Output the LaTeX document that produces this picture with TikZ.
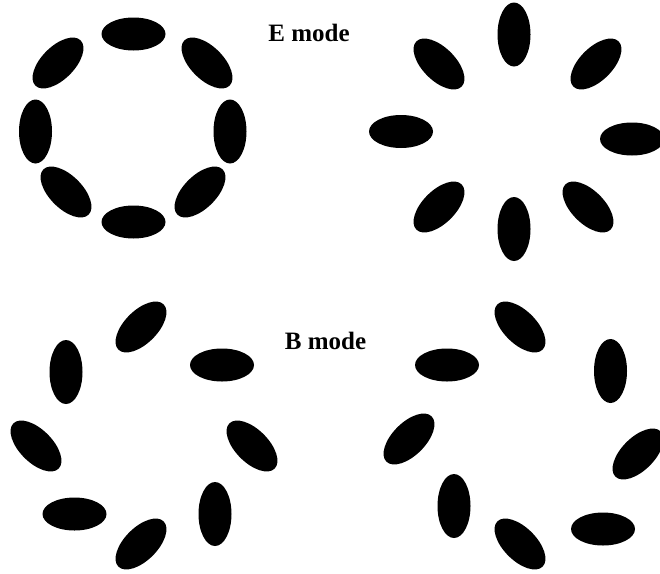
\documentclass[tikz,border=0pt]{standalone}
\usepackage{fontspec}
\setmainfont{Liberation Serif}
\usepackage{tikz}
\usetikzlibrary{shapes.geometric}

\tikzset{
  grain/.style={ellipse,fill=black,draw=none,inner sep=0pt,minimum width=64pt,minimum height=33pt},
  modelabel/.style={inner sep=0pt,anchor=base,font=\bfseries\fontsize{25}{30}\selectfont}
}

\begin{document}
\begin{tikzpicture}[x=1pt,y=-1pt]
\useasboundingbox (0,0) rectangle (660,573);
% E mode, tangential
\node[grain] (tl0) at (133.5,34) {};
\node[grain,rotate=45] (tl1) at (58,63) {};
\node[grain,rotate=-45] (tl2) at (207,63) {};
\node[grain,rotate=90] (tl3) at (35.5,131.5) {};
\node[grain,rotate=90] (tl4) at (230,131.5) {};
\node[grain,rotate=-45] (tl5) at (66,192) {};
\node[grain,rotate=45] (tl6) at (200,192) {};
\node[grain] (tl7) at (133.5,222) {};
% E mode, radial
\node[grain,rotate=90] (tr0) at (514,34.5) {};
\node[grain,rotate=-45] (tr1) at (439,64) {};
\node[grain,rotate=45] (tr2) at (596,64) {};
\node[grain] (tr3) at (401,131.5) {};
\node[grain] (tr4) at (632,139) {};
\node[grain,rotate=45] (tr5) at (439,207) {};
\node[grain,rotate=-45] (tr6) at (588,207) {};
\node[grain,rotate=90] (tr7) at (514,229) {};
% B mode, one hand
\node[grain,rotate=45] (bl0) at (141,327) {};
\node[grain,rotate=90] (bl1) at (66,372) {};
\node[grain] (bl2) at (222,365) {};
\node[grain,rotate=-45] (bl3) at (36,446) {};
\node[grain,rotate=-45] (bl4) at (252,446) {};
\node[grain] (bl5) at (74.5,514) {};
\node[grain,rotate=90] (bl6) at (215,514) {};
\node[grain,rotate=45] (bl7) at (141,544) {};
% B mode, other hand
\node[grain,rotate=-45] (br0) at (520,327) {};
\node[grain] (br1) at (447,365) {};
\node[grain,rotate=90] (br2) at (610.5,371) {};
\node[grain,rotate=45] (br3) at (409,439) {};
\node[grain,rotate=45] (br4) at (638,454) {};
\node[grain,rotate=90] (br5) at (454,506) {};
\node[grain] (br6) at (603,529) {};
\node[grain,rotate=-45] (br7) at (520,544) {};
\node[modelabel] (emode) at (309,41) {E mode};
\node[modelabel] (bmode) at (325.5,349) {B mode};
\end{tikzpicture}
\end{document}
